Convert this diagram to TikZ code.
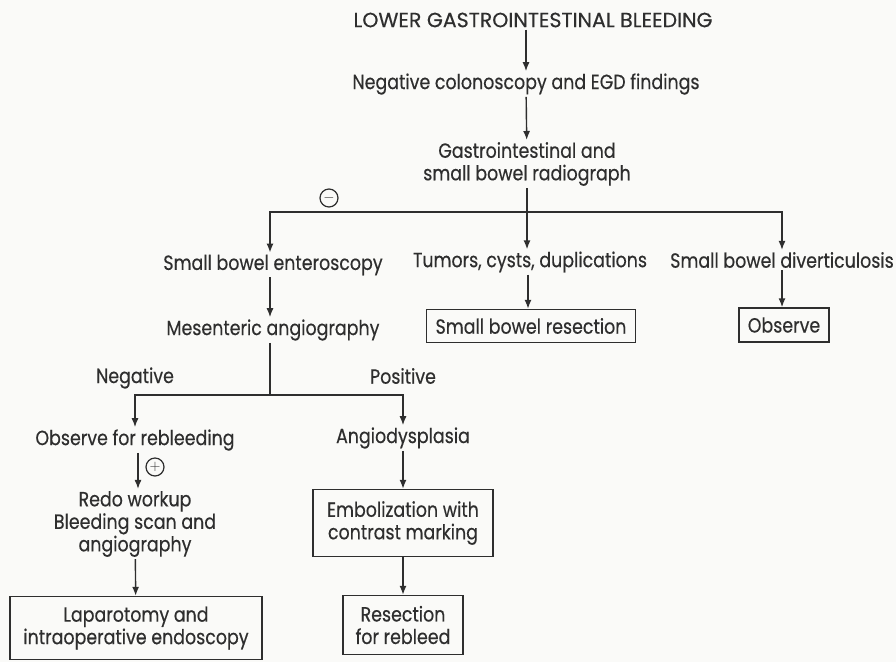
\documentclass[tikz,border=0pt]{standalone}
\usepackage{fontspec}
\setmainfont{Poppins}[FakeStretch=0.85,FakeBold=0.4]
\newfontfamily\headfont{Poppins}[FakeBold=0.4]
\usepackage{tikz}
\usetikzlibrary{arrows.meta,positioning}
\definecolor{inkcol}{HTML}{2E2E2E}
\definecolor{papercol}{HTML}{FAFAF8}

\begin{document}
\begin{tikzpicture}[x=1pt,y=-1pt,>={Latex[length=9pt,width=7pt]},
  every node/.style={font=\fontsize{20.5}{22.5}\selectfont,text=inkcol,align=center},
  txt/.style={inner sep=2pt},
  boxed/.style={draw=inkcol,line width=1.4pt,inner xsep=8pt,inner ysep=4pt},
  link/.style={draw=inkcol,line width=1.4pt},
  sign/.style={circle,draw=inkcol,line width=1.2pt,inner sep=0pt,minimum size=18pt,font=\fontsize{15}{15}\selectfont}]
  \fill[papercol] (0,0) rectangle (896,662);
  \useasboundingbox (0,0) rectangle (896,662);
  % top chain
  \node[txt,font=\headfont\fontsize{20.5}{22.5}\selectfont] (lgib) at (533,20) {LOWER GASTROINTESTINAL BLEEDING};
  \node[txt] (negcol) at (526,84) {Negative colonoscopy and EGD findings};
  \node[txt] (radio) at (527,164) {Gastrointestinal and\\small bowel radiograph};
  \draw[link,->] (lgib.south -| negcol) -- (negcol);
  \draw[link,->] (negcol) -- (radio);
  % three branches
  \coordinate (split) at (527,212);
  \node[sign] (minus) at (329,198) {$-$};
  \node[txt] (entero) at (273,265) {Small bowel enteroscopy};
  \node[txt] (tumors) at (530,262) {Tumors, cysts, duplications};
  \node[txt] (divert) at (782,260) {Small bowel diverticulosis};
  \draw[link] (radio) -- (split);
  \draw[link,->] (split) -| ([xshift=-3pt]entero.north);
  \draw[link,->] (split) -- (split |- tumors.north);
  \draw[link,->] (split) -| (divert.north);
  \node[txt] (mesang) at (273,330) {Mesenteric angiography};
  \node[boxed,minimum width=209pt,minimum height=33pt] (resect) at (531,326) {Small bowel resection};
  \node[boxed,minimum width=90pt,minimum height=34pt] (observe) at (784,325) {Observe};
  \draw[link,->] ([xshift=-3pt]entero.south) -- ([xshift=-3pt]entero.south |- mesang.north);
  \draw[link,->] ([xshift=-2pt]tumors.south) -- ([xshift=-2pt]tumors.south |- resect.north);
  \draw[link,->] (divert.south) -- (divert.south |- observe.north);
  % angiography result
  \coordinate (split2) at (270,395);
  \node[txt] (neg) at (135,378) {Negative};
  \node[txt] (pos) at (403,376) {Positive};
  \node[txt] (obsreb) at (135,440) {Observe for rebleeding};
  \node[txt] (angiod) at (403,438) {Angiodysplasia};
  \draw[link] ([xshift=-3pt]mesang.south) -- (split2);
  \draw[link,->] (split2) -| (obsreb.north);
  \draw[link,->] (split2) -| (angiod.north);
  % negative side
  \node[txt] (redo) at (135,524) {Redo workup\\Bleeding scan and\\angiography};
  \node[sign] (plus) at (155,467) {$+$};
  \node[boxed,minimum width=252pt,minimum height=63pt] (lapar) at (136,628) {Laparotomy and\\intraoperative endoscopy};
  \draw[link,->] ([xshift=3pt]obsreb.south) -- ([xshift=3pt]obsreb.south |- redo.north);
  \draw[link,->] (redo) -- (lapar);
  % positive side
  \node[boxed,minimum width=180pt,minimum height=67pt] (embol) at (403,523) {Embolization with\\contrast marking};
  \node[boxed,minimum width=120pt,minimum height=59pt] (resreb) at (403,625) {Resection\\for rebleed};
  \draw[link,->] (angiod) -- (embol);
  \draw[link,->] (embol) -- (resreb);
\end{tikzpicture}
\end{document}
